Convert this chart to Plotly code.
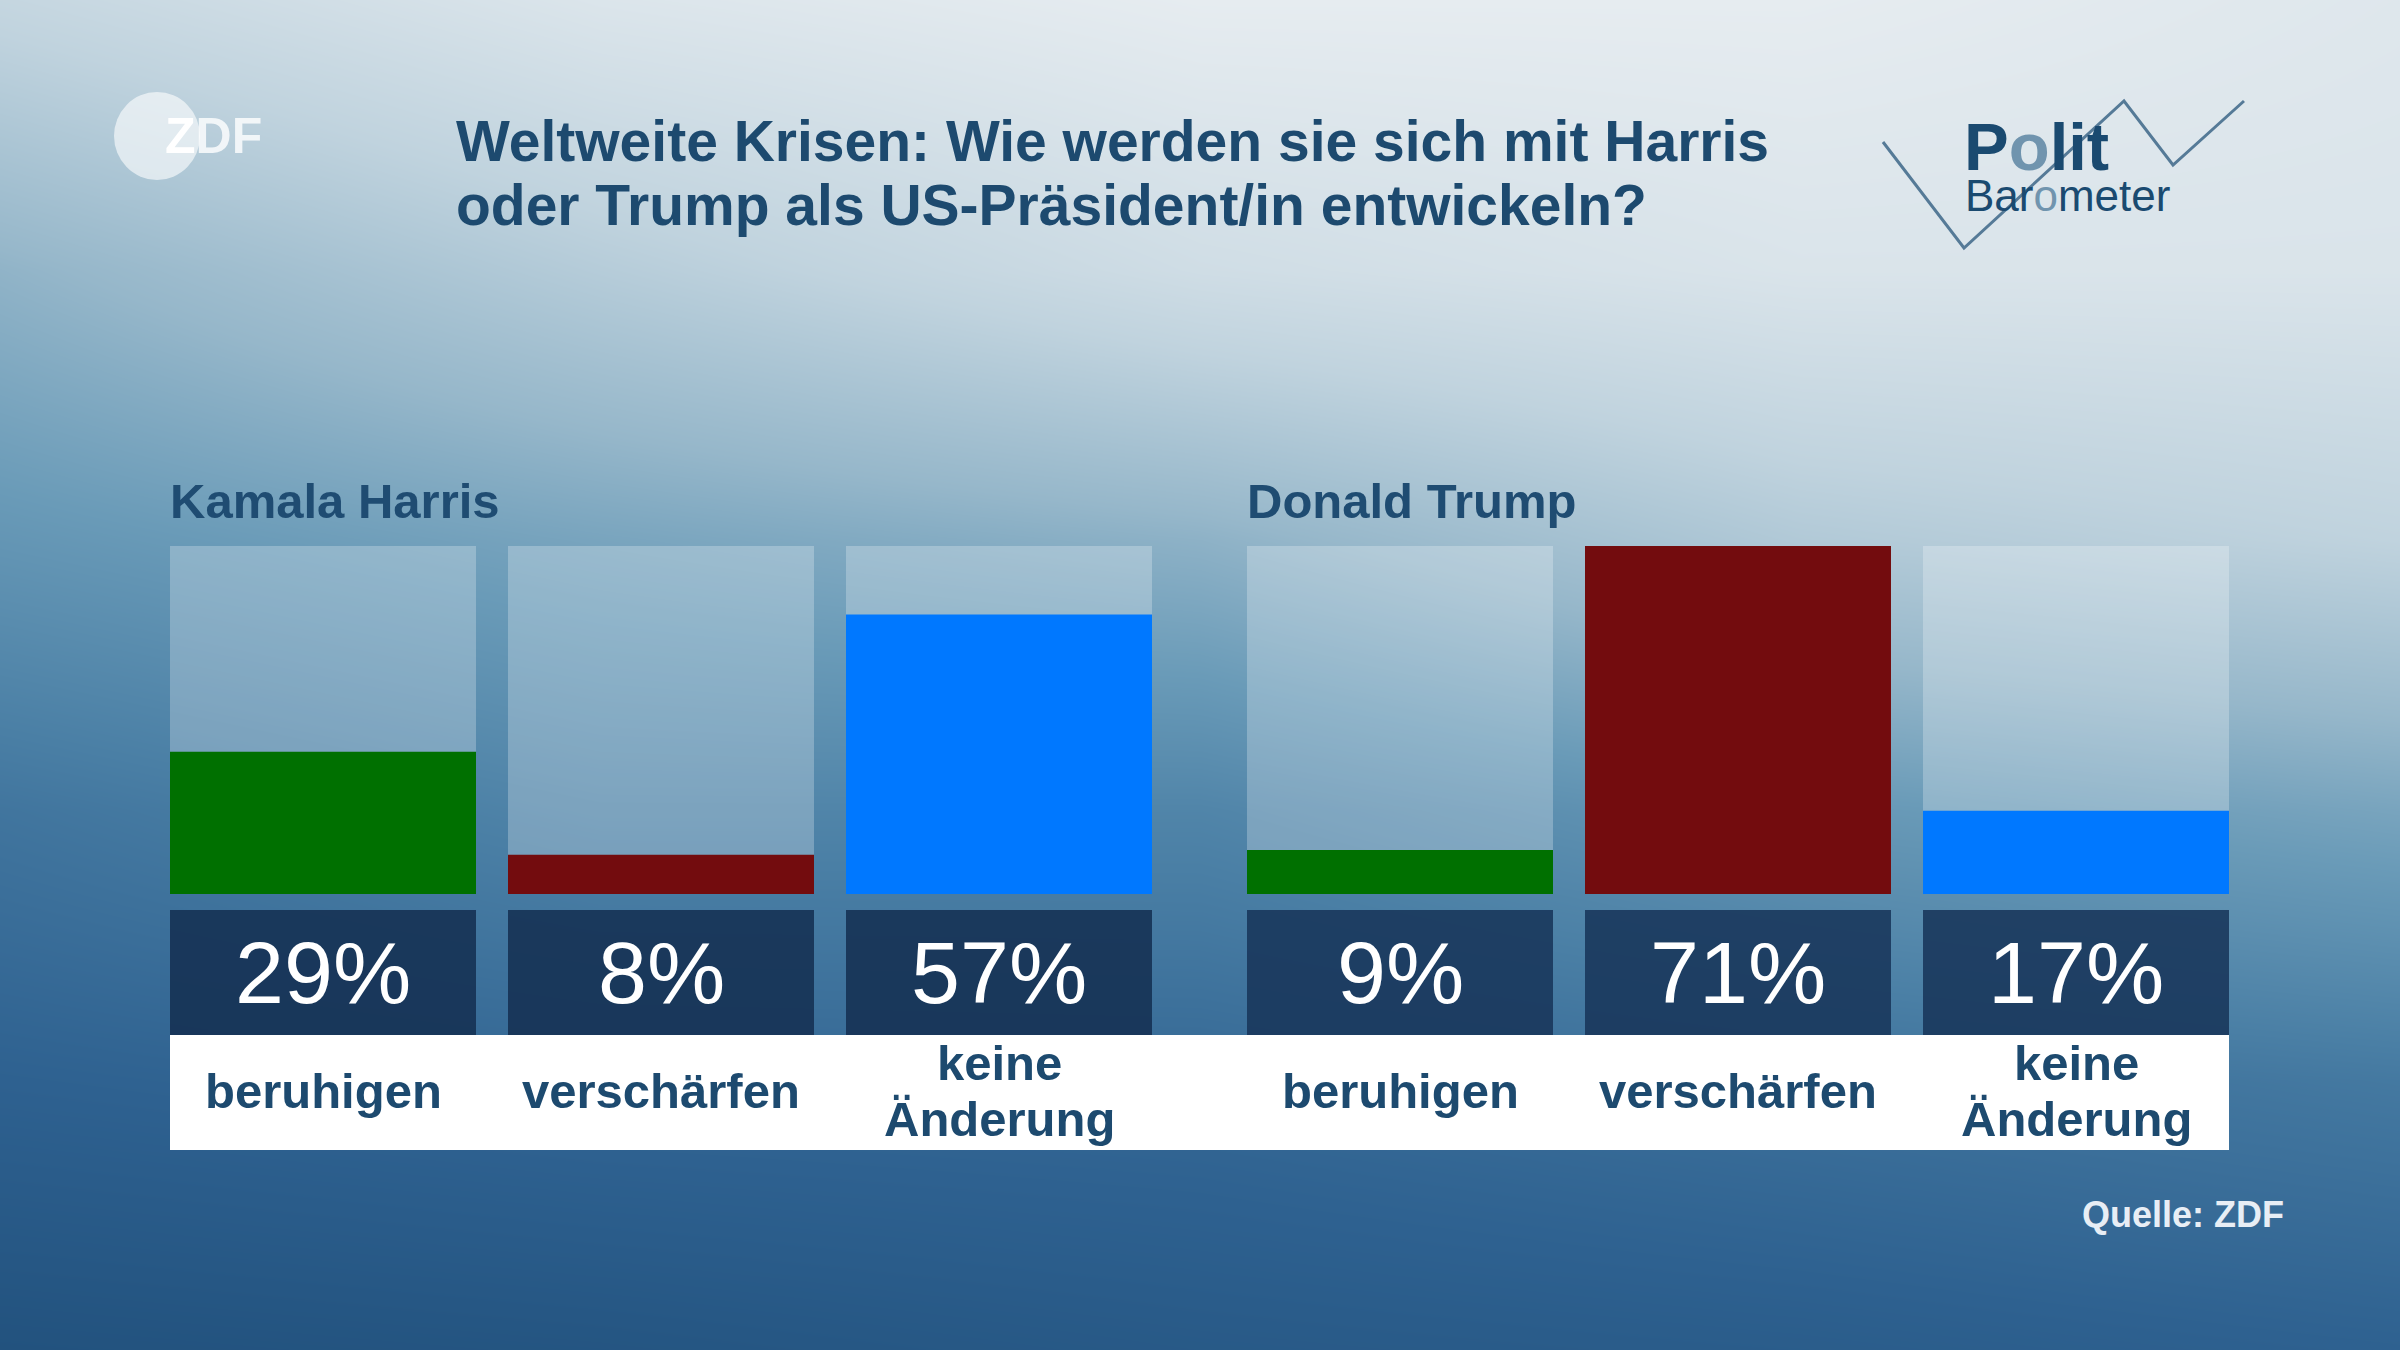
import plotly.graph_objects as go

# ---------------- data ----------------
categories = ["beruhigen", "verschärfen", "keine\nÄnderung"]
harris_values = [29, 8, 57]
trump_values = [9, 71, 17]
bar_colors = ["#007000", "#730c0e", "#0078ff"]
groups = ["Kamala Harris", "Donald Trump"]
title_lines = ["Weltweite Krisen: Wie werden sie sich mit Harris",
               "oder Trump als US-Präsident/in entwickeln?"]
source_text = "Quelle: ZDF"

W, H = 2400, 1350
FONT = "Liberation Sans, Arial, sans-serif"
DARK = "#1d4a6f"

# background gradient grid (decoration only)
bg_x = [0, 600, 1200, 1800, 2400]
bg_y = [0, 270, 540, 810, 1080, 1350]
bg_z = [
    [0.22, 0.07, 0.00, 0.00, 0.05],
    [0.47, 0.30, 0.15, 0.08, 0.08],
    [0.63, 0.55, 0.48, 0.32, 0.25],
    [0.80, 0.72, 0.72, 0.62, 0.55],
    [0.90, 0.87, 0.86, 0.82, 0.78],
    [1.00, 0.98, 0.95, 0.93, 0.90],
]
bg_scale = [
    [0.0, "#e6ecf0"], [0.25, "#c0d3de"], [0.45, "#96b7ca"], [0.6, "#6a9bb8"],
    [0.75, "#4a7fa5"], [0.9, "#2e6190"], [1.0, "#22527e"],
]

fig = go.Figure()
fig.add_trace(go.Heatmap(x=bg_x, y=bg_y, z=bg_z, colorscale=bg_scale, zmin=0, zmax=1,
                         zsmooth="best", showscale=False, hoverinfo="skip",
                         xaxis="x", yaxis="y"))

ymax = max(harris_values + trump_values)
slot = 338.0
bw = 306.0 / slot
half = bw / 2
xr = [-half, 2 + half]

# layout of panels (pixel positions)
bar_top, bar_bot = 546, 894
box_top, box_bot = 910, 1035
band_top, band_bot = 1035, 1150
panel_left = [170, 1247]
panel_w = 2 * slot + 306

for gi, (vals, ax) in enumerate([(harris_values, "2"), (trump_values, "3")]):
    xs = list(range(len(categories)))
    fig.add_trace(go.Bar(x=xs, y=[ymax] * len(vals), width=bw,
                         marker=dict(color="rgba(255,255,255,0.25)", line=dict(width=0)),
                         hoverinfo="skip", xaxis="x" + ax, yaxis="y" + ax, showlegend=False))
    fig.add_trace(go.Bar(x=xs, y=vals, width=bw,
                         marker=dict(color=bar_colors, line=dict(width=0)),
                         hoverinfo="skip", xaxis="x" + ax, yaxis="y" + ax, showlegend=False))
    box_fill = "rgba(20,48,82,0.88)" if gi == 0 else "rgba(24,54,90,0.88)"
    for i, v in enumerate(vals):
        fig.add_shape(type="rect", xref="x" + ax, yref="y", x0=i - half, x1=i + half,
                      y0=box_top, y1=box_bot, fillcolor=box_fill,
                      line=dict(width=0), layer="above")
        fig.add_annotation(xref="x" + ax, yref="y", x=i, y=(box_top + box_bot) / 2,
                           text=f"{v}%", showarrow=False, xanchor="center", yanchor="middle",
                           font=dict(family=FONT, size=88, color="white"))
        lines = categories[i].split("\n")
        ys = [1091] if len(lines) == 1 else [1063, 1119]
        for ln, yy in zip(lines, ys):
            fig.add_annotation(xref="x" + ax, yref="y", x=i, y=yy, text=f"<b>{ln}</b>",
                               showarrow=False, xanchor="center", yanchor="middle",
                               font=dict(family=FONT, size=49, color=DARK))
    fig.add_annotation(xref="x", yref="y", x=panel_left[gi] - 2, y=501,
                       text=f"<b>{groups[gi]}</b>", showarrow=False, xanchor="left",
                       yanchor="middle", font=dict(family=FONT, size=49, color="#1f4c72"))

# white label band (under the annotations)
fig.add_shape(type="rect", xref="x", yref="y", x0=panel_left[0], x1=panel_left[1] + panel_w,
              y0=band_top, y1=band_bot, fillcolor="white", line=dict(width=0), layer="above")

# title
for k, ln in enumerate(title_lines):
    fig.add_annotation(xref="x", yref="y", x=454, y=141 + 64 * k, text=f"<b>{ln}</b>",
                       showarrow=False, xanchor="left", yanchor="middle",
                       font=dict(family=FONT, size=57, color=DARK))

# source
fig.add_annotation(xref="x", yref="y", x=2286, y=1214, text=f"<b>{source_text}</b>",
                   showarrow=False, xanchor="right", yanchor="middle",
                   font=dict(family=FONT, size=36, color="#e8eef5"))

# ZDF logo
fig.add_shape(type="circle", xref="x", yref="y", x0=114, x1=200, y0=92, y1=180,
              fillcolor="rgba(255,255,255,0.6)", line=dict(width=0), layer="above")
fig.add_annotation(xref="x", yref="y", x=163, y=136,
                   text="<b>Z<span style='color:rgba(255,255,255,0.8)'>DF</span></b>",
                   showarrow=False, xanchor="left", yanchor="middle",
                   font=dict(family=FONT, size=50, color="white"))

# Politbarometer logo
fig.add_shape(type="path", xref="x", yref="y",
              path="M 1883 142 L 1964 248 L 2124 101 L 2173 165 L 2244 101",
              line=dict(color="#557a97", width=3), layer="above")
fig.add_annotation(xref="x", yref="y", x=1962, y=146,
                   text="<b>P<span style='color:#7094ae'>o</span>lit</b>",
                   showarrow=False, xanchor="left", yanchor="middle",
                   font=dict(family=FONT, size=67, color="#1a4a70"))
fig.add_annotation(xref="x", yref="y", x=1963, y=195,
                   text="Bar<span style='color:#7094ae'>o</span>meter",
                   showarrow=False, xanchor="left", yanchor="middle",
                   font=dict(family=FONT, size=44, color="#1a4a70"))

hidden = dict(visible=False, showgrid=False, zeroline=False, fixedrange=True)
fig.update_layout(
    width=W, height=H, margin=dict(l=0, r=0, t=0, b=0),
    paper_bgcolor="#6a9bb8", plot_bgcolor="rgba(0,0,0,0)",
    barmode="overlay", showlegend=False,
    xaxis=dict(domain=[0, 1], range=[0, W], **hidden),
    yaxis=dict(domain=[0, 1], range=[H, 0], **hidden),
    xaxis2=dict(domain=[panel_left[0] / W, (panel_left[0] + panel_w) / W], range=xr,
                anchor="y2", **hidden),
    yaxis2=dict(domain=[1 - bar_bot / H, 1 - bar_top / H], range=[0, ymax], anchor="x2", **hidden),
    xaxis3=dict(domain=[panel_left[1] / W, (panel_left[1] + panel_w) / W], range=xr,
                anchor="y3", **hidden),
    yaxis3=dict(domain=[1 - bar_bot / H, 1 - bar_top / H], range=[0, ymax], anchor="x3", **hidden),
)

fig.write_html("out.html", config={"displayModeBar": False, "staticPlot": True},
               post_script="document.body.style.margin='0';document.body.style.overflow='hidden';")
